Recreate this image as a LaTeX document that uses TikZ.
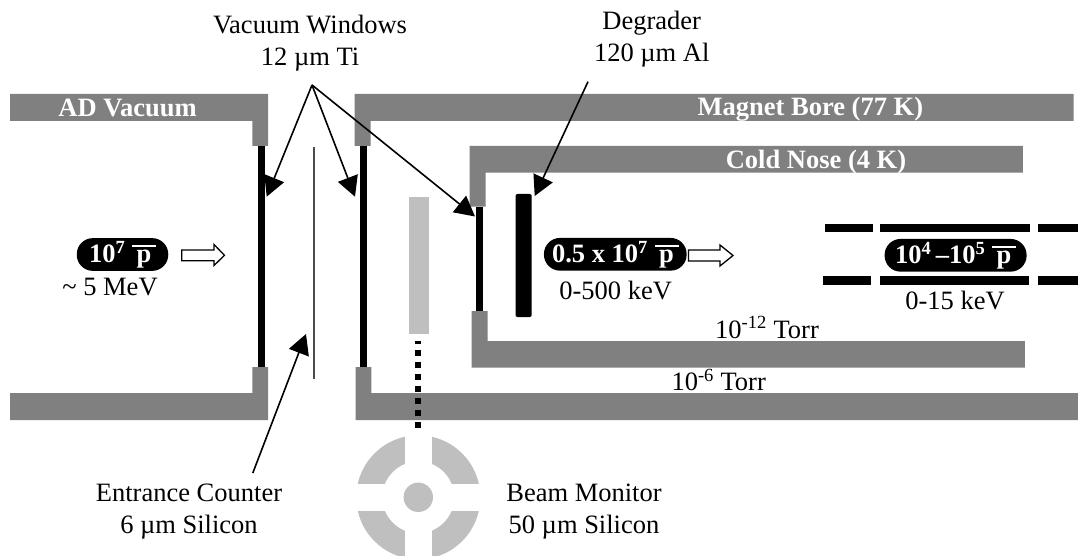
\documentclass[tikz,border=0pt]{standalone}
\usepackage{fontspec}
\setmainfont{Liberation Serif}
\usetikzlibrary{arrows.meta}
\definecolor{wallgray}{HTML}{808080}
\definecolor{lightsi}{HTML}{BFBFBF}
\newcommand{\pbarsym}{\leavevmode\rlap{\raisebox{15.5pt}{\rule{24pt}{1.6pt}}}\makebox[24pt]{p}}
\tikzset{
  x=1pt,y=-1pt,
  every node/.style={inner sep=0pt,outer sep=0pt,font=\fontsize{26.5}{32}\selectfont,text=black},
  wall/.style={fill=wallgray,draw=none},
  blackbar/.style={fill=black,draw=none},
  si/.style={fill=lightsi,draw=none},
  lbl/.style={anchor=base,align=center},
  walllbl/.style={anchor=base,text=white,font=\fontsize{26.5}{32}\selectfont\bfseries},
  pill/.style={fill=black,rounded corners=16pt,draw=none,anchor=center,text=white,font=\fontsize{26.5}{32}\selectfont\bfseries},
  callout/.style={draw=black,line width=1.6pt,-{Triangle[length=20pt,width=21pt]},shorten <=0pt},
  hollow/.style={draw=black,fill=white,line width=1.3pt,line join=miter}
}
\begin{document}
\begin{tikzpicture}
\useasboundingbox (0,0) rectangle (1078,556);
% walls
\fill[wall] (10,94)--(268,94)--(268,146)--(252.4,146)--(252.4,121)--(10,121)--cycle;
\fill[wall] (10,420)--(268,420)--(268,367)--(252.4,367)--(252.4,393)--(10,393)--cycle;
\fill[wall] (354.5,146)--(354.5,94)--(1073.7,94)--(1073.7,121)--(370.5,121)--(370.5,146)--cycle;
\fill[wall] (355.5,367)--(355.5,420)--(1078,420)--(1078,393)--(371.4,393)--(371.4,367)--cycle;
\fill[wall] (469.7,206.7)--(469.7,146)--(1022.8,146)--(1022.8,172.7)--(485.5,172.7)--(485.5,206.7)--cycle;
\fill[wall] (471.7,311)--(471.7,367.7)--(1024.9,367.7)--(1024.9,341)--(487.6,341)--(487.6,311)--cycle;
% windows
\fill[blackbar] (258,146) rectangle (265,367);
\fill[blackbar] (360,146) rectangle (366.6,367);
\fill[blackbar] (475.5,206.7) rectangle (482.8,311);
\fill[blackbar,rounded corners=2pt] (515.5,194) rectangle (531.7,317);
% entrance counter
\fill[black!70] (313.4,146.7) rectangle (315.4,379);
% beam monitor strip
\fill[si] (408.6,196.7) rectangle (428.6,334);
\draw[black,line width=6.4pt,dash pattern=on 6pt off 6pt] (418.2,428) -- (418.2,341);
% beam monitor
\begin{scope}
\clip (0,0) rectangle (1078,556);
\fill[si,even odd rule] (418.3,497.3) circle[radius=62] (418.3,497.3) circle[radius=36];
\fill[white] (405,430) rectangle (431.7,556);
\fill[white] (350,483.9) rectangle (490,510.7);
\fill[si] (418.3,497.3) circle[radius=14.7];
\end{scope}
% trap electrodes
\fill[blackbar] (824.5,224) rectangle (872.6,231.7);
\fill[blackbar] (880,224) rectangle (1030,231.7);
\fill[blackbar] (1038,224) rectangle (1078,231.7);
\fill[blackbar] (822.5,276.3) rectangle (870.6,285);
\fill[blackbar] (879.5,276.3) rectangle (1029.3,285);
\fill[blackbar] (1038,276.3) rectangle (1078,285);
% wall labels
\node[walllbl] (ad) at (127.5,117) {AD Vacuum};
\node[walllbl] (bore) at (810.4,115.5) {Magnet Bore (77 K)};
\node[walllbl] (nose) at (816,168.5) {Cold Nose (4 K)};
% pills
\node[pill,minimum width=91.5pt,minimum height=32.7pt] (p1) at (122.5,254.5) {10\textsuperscript{7} \pbarsym};
\node[pill,minimum width=142.7pt,minimum height=32.7pt] (p2) at (615.3,254.3) {0.5 x 10\textsuperscript{7} \pbarsym};
\node[pill,minimum width=142pt,minimum height=32.7pt] (p3) at (955.6,255.3) {10\textsuperscript{4}\,–10\textsuperscript{5} \pbarsym};
% hollow arrows
\draw[hollow] (181.7,250)--(214,250)--(214,244.5)--(224.5,255.3)--(214,265.5)--(214,260.7)--(181.7,260.7)--cycle;
\draw[hollow] (688.5,250)--(720,250)--(720,245)--(733,255.5)--(720,266)--(720,261)--(688.5,261)--cycle;
% text labels
\node[lbl] (e1) at (110,295) {\textasciitilde{} 5 MeV};
\node[lbl] (e2) at (615.6,299) {0-500 keV};
\node[lbl] (e3) at (955,309) {0-15 keV};
\node[lbl] (t1) at (767,338) {10\textsuperscript{-12} Torr};
\node[lbl] (t2) at (718.7,390.5) {10\textsuperscript{-6} Torr};
\node[anchor=center,align=center] (vw) at (310,43) {Vacuum Windows\\12 µm Ti};
\node[anchor=center,align=center] (dg) at (651.7,39) {Degrader\\120 µm Al};
\node[anchor=center,align=center] (ec) at (189,512) {Entrance Counter\\6 µm Silicon};
\node[anchor=center,align=center] (bm) at (584,512) {Beam Monitor\\50 µm Silicon};
% callouts
\coordinate (vwa) at (312,85);
\coordinate (t1w) at (266.7,196.7);
\coordinate (t2w) at (355,196.7);
\coordinate (t3w) at (475,216.5);
\coordinate (dga) at (588,81.7);
\coordinate (dgt) at (534.7,196);
\coordinate (eca) at (252.8,473);
\coordinate (ect) at (306,334);
\draw[callout] (vwa) -- (t1w);
\draw[callout] (vwa) -- (t2w);
\draw[callout] (vwa) -- (t3w);
\draw[callout] (dga) -- (dgt);
\draw[callout] (eca) -- (ect);
\end{tikzpicture}
\end{document}
